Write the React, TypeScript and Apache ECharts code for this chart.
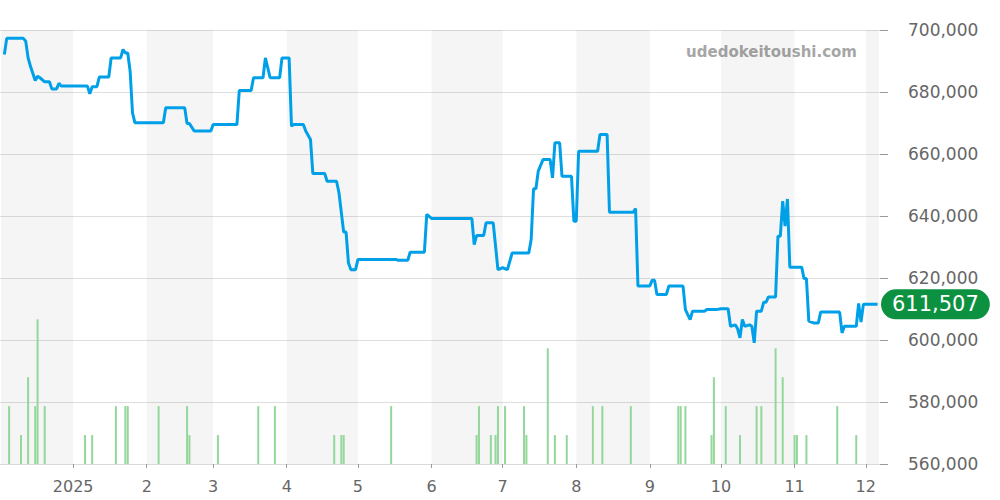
import React, { useEffect, useRef } from "react";
import * as echarts from "echarts";

const priceDates: string[] = [
  "2024-12-03", "2024-12-04", "2024-12-11", "2024-12-12", "2024-12-13", "2024-12-14", "2024-12-16", "2024-12-17",
  "2024-12-18", "2024-12-20", "2024-12-22", "2024-12-23", "2024-12-25", "2024-12-26", "2024-12-27",
  "2025-01-07", "2025-01-08", "2025-01-09", "2025-01-11", "2025-01-12", "2025-01-16", "2025-01-17", "2025-01-21",
  "2025-01-22", "2025-01-23", "2025-01-24", "2025-01-25", "2025-01-26", "2025-01-27",
  "2025-02-08", "2025-02-09", "2025-02-17", "2025-02-18", "2025-02-19", "2025-02-21", "2025-02-28",
  "2025-03-01", "2025-03-11", "2025-03-12", "2025-03-17", "2025-03-18", "2025-03-22", "2025-03-23", "2025-03-25",
  "2025-03-29", "2025-03-30",
  "2025-04-02", "2025-04-03", "2025-04-04", "2025-04-08", "2025-04-09", "2025-04-11", "2025-04-12", "2025-04-17",
  "2025-04-18", "2025-04-22", "2025-04-23", "2025-04-25", "2025-04-26", "2025-04-27", "2025-04-28", "2025-04-30",
  "2025-05-01", "2025-05-17", "2025-05-18", "2025-05-22", "2025-05-23", "2025-05-29", "2025-05-30",
  "2025-06-01", "2025-06-18", "2025-06-19", "2025-06-20", "2025-06-23", "2025-06-24", "2025-06-27", "2025-06-28",
  "2025-06-29",
  "2025-07-01", "2025-07-03", "2025-07-05", "2025-07-12", "2025-07-13", "2025-07-14", "2025-07-15", "2025-07-16",
  "2025-07-18", "2025-07-21", "2025-07-22", "2025-07-23", "2025-07-25", "2025-07-26", "2025-07-30", "2025-07-31",
  "2025-08-01", "2025-08-02", "2025-08-10", "2025-08-11", "2025-08-14", "2025-08-15", "2025-08-25", "2025-08-26",
  "2025-08-27",
  "2025-09-01", "2025-09-02", "2025-09-03", "2025-09-04", "2025-09-08", "2025-09-09", "2025-09-15", "2025-09-16",
  "2025-09-18", "2025-09-19", "2025-09-24", "2025-09-25", "2025-09-29",
  "2025-10-01", "2025-10-04", "2025-10-05", "2025-10-07", "2025-10-08", "2025-10-09", "2025-10-10", "2025-10-11",
  "2025-10-13", "2025-10-14", "2025-10-15", "2025-10-16", "2025-10-18", "2025-10-19", "2025-10-20", "2025-10-21",
  "2025-10-24", "2025-10-25", "2025-10-26", "2025-10-27", "2025-10-28", "2025-10-29", "2025-10-30",
  "2025-11-04", "2025-11-05", "2025-11-06", "2025-11-07", "2025-11-09", "2025-11-11", "2025-11-12", "2025-11-20",
  "2025-11-21", "2025-11-22", "2025-11-27", "2025-11-28", "2025-11-29", "2025-11-30",
  "2025-12-06",
];

const priceValues: number[] = [
  692100, 697300, 697300, 696400, 691000, 688300, 683700, 685100,
  684600, 683300, 683300, 681000, 681000, 682800, 681900,
  681900, 679400, 681700, 681700, 684800, 684800, 691000, 691000,
  693700, 692600, 692600, 686700, 673300, 670100,
  670100, 674900, 674900, 669800, 669800, 667400, 667400,
  669500, 669500, 680500, 680500, 684600, 684600, 691000, 684600,
  684600, 691000,
  691000, 669000, 669500, 669500, 667400, 664700, 653700, 653700,
  651200, 651200, 647500, 634800, 634800, 624900, 622700, 622700,
  626000, 626000, 625700, 625700, 628300, 628300, 640500,
  639200, 639200, 630800, 633700, 633700, 637800, 637800, 630300,
  622700,
  623300, 622700, 628100, 628100, 632400, 648800, 648800, 654500,
  658200, 658200, 652300, 663600, 663600, 652800, 652800, 638300,
  638300, 660900, 660900, 666300, 666300, 641200, 641200, 642400,
  617400,
  617400, 619300, 619300, 614700, 614700, 617400, 617400, 609800,
  606600, 609300, 609300, 609800, 609800,
  610100, 610100, 604400, 604900, 603600, 600700, 606600, 604400,
  604900, 604400, 599100, 609300, 609300, 612200, 612200, 613900,
  613900, 633500, 633500, 644800, 636700, 645500, 623500,
  623500, 619800, 619800, 606100, 605500, 605500, 609000, 609000,
  602300, 604400, 604400, 611800, 605800, 611507,
  611507,
];

const volumeDates: string[] = [
  "2024-12-05", "2024-12-10", "2024-12-13", "2024-12-16", "2024-12-17", "2024-12-20",
  "2025-01-06", "2025-01-09", "2025-01-19", "2025-01-23", "2025-01-24",
  "2025-02-06", "2025-02-18", "2025-02-19",
  "2025-03-03", "2025-03-20", "2025-03-27",
  "2025-04-21", "2025-04-24", "2025-04-25",
  "2025-05-15",
  "2025-06-20", "2025-06-21", "2025-06-26", "2025-06-28", "2025-06-29",
  "2025-07-02", "2025-07-10", "2025-07-11", "2025-07-20", "2025-07-23", "2025-07-28",
  "2025-08-08", "2025-08-12", "2025-08-24",
  "2025-09-13", "2025-09-14", "2025-09-16", "2025-09-27", "2025-09-28",
  "2025-10-03", "2025-10-09", "2025-10-16", "2025-10-18", "2025-10-24", "2025-10-27",
  "2025-11-01", "2025-11-02", "2025-11-06", "2025-11-19", "2025-11-27",
];

const volumeValues: number[] = [
  2, 1, 3, 2, 5, 2,
  1, 1, 2, 2, 2,
  2, 2, 1,
  1, 2, 2,
  1, 1, 1,
  2,
  1, 2, 1, 1, 2,
  2, 2, 1, 4, 1, 1,
  2, 2, 2,
  2, 2, 2, 1, 3,
  2, 1, 2, 2, 4, 3,
  1, 1, 1, 2, 1,
];

const yTicks: number[] = [560000, 580000, 600000, 620000, 640000, 660000, 680000, 700000];

const shadedMonthStarts: string[] = ["2025-02-01", "2025-04-01", "2025-06-01", "2025-08-01", "2025-10-01"];

const X_MIN = new Date(2024, 11, 1, 14).getTime();
const X_MAX = new Date(2025, 11, 6, 14).getTime();

function parseDay(s: string): number {
  const [y, m, d] = s.split("-").map(Number);
  return new Date(y, m - 1, d).getTime();
}

function nextMonth(t: number): number {
  const d = new Date(t);
  return new Date(d.getFullYear(), d.getMonth() + 1, 1).getTime();
}

const fmt = (v: number) => v.toLocaleString("en-US");

export default function App() {
  const ref = useRef<HTMLDivElement>(null);

  useEffect(() => {
    if (!ref.current) return;
    const chart = echarts.init(ref.current, undefined, { renderer: "svg" });

    const lineData = priceDates.map((d, i) => [parseDay(d), priceValues[i]]);
    const volData = volumeDates.map((d, i) => [parseDay(d), volumeValues[i]]);
    const lastValue = priceValues[priceValues.length - 1];

    const bands: any[] = [];
    bands.push([{ xAxis: X_MIN }, { xAxis: parseDay("2025-01-01") }]);
    shadedMonthStarts.forEach((s) => {
      const t = parseDay(s);
      bands.push([{ xAxis: t }, { xAxis: nextMonth(t) }]);
    });
    bands.push([{ xAxis: parseDay("2025-12-01") }, { xAxis: X_MAX }]);

    chart.setOption({
      animation: false,
      textStyle: { fontFamily: "DejaVu Sans" },
      grid: { left: 0, right: 120, top: 30, bottom: 36, containLabel: false },
      graphic: [
        {
          type: "text",
          right: 143,
          top: 44,
          style: {
            text: "udedokeitoushi.com",
            fill: "#a6a6a6",
            font: "bold 15px 'DejaVu Sans'",
          },
        },
      ],
      xAxis: {
        type: "time",
        min: X_MIN,
        max: X_MAX,
        minInterval: 28 * 86400000,
        maxInterval: 31 * 86400000,
        splitNumber: 12,
        axisLine: { show: true, lineStyle: { color: "#d9d9d9" } },
        axisTick: { show: true, length: 4, lineStyle: { color: "#999" } },
        splitLine: { show: false },
        axisLabel: {
          color: "#666",
          fontSize: 16,
          margin: 14,
          hideOverlap: false,
          formatter: (value: number) => {
            const d = new Date(value);
            if (d.getDate() !== 1 || d.getHours() !== 0) return "";
            return d.getMonth() === 0 ? String(d.getFullYear()) : String(d.getMonth() + 1);
          },
        },
      },
      yAxis: [
        {
          type: "value",
          position: "right",
          min: yTicks[0],
          max: yTicks[yTicks.length - 1],
          interval: 20000,
          axisLine: { show: false },
          axisTick: { show: true, length: 8, lineStyle: { color: "#999" } },
          splitLine: { show: true, lineStyle: { color: "#dedede" } },
          axisLabel: { color: "#666", fontSize: 17, margin: 28, formatter: (v: number) => fmt(v) },
        },
        {
          type: "value",
          min: 0,
          max: 15,
          show: false,
          splitLine: { show: false },
        },
      ],
      series: [
        {
          name: "volume",
          type: "bar",
          yAxisIndex: 1,
          data: volData,
          barWidth: 2,
          itemStyle: { color: "#93d79a" },
          silent: true,
          markArea: {
            silent: true,
            itemStyle: { color: "rgba(0,0,0,0.04)" },
            data: bands,
          },
        },
        {
          name: "price",
          type: "line",
          data: lineData,
          showSymbol: false,
          symbol: "none",
          lineStyle: { color: "#00a0e9", width: 3 },
          z: 5,
          markLine: {
            silent: true,
            symbol: ["none", "none"],
            lineStyle: { color: "rgba(0,0,0,0)", width: 0, type: "solid" },
            data: [{ yAxis: lastValue }],
            label: {
              show: true,
              position: "end",
              distance: 1,
              formatter: () => fmt(lastValue),
              color: "#ffffff",
              fontSize: 21,
              backgroundColor: "#0b9140",
              borderRadius: 16,
              padding: [5, 11, 4, 11],
            },
          },
        },
      ],
    });

    return () => chart.dispose();
  }, []);

  return <div ref={ref} style={{ width: 1000, height: 500, position: "absolute", left: 0, top: 0 }} />;
}
